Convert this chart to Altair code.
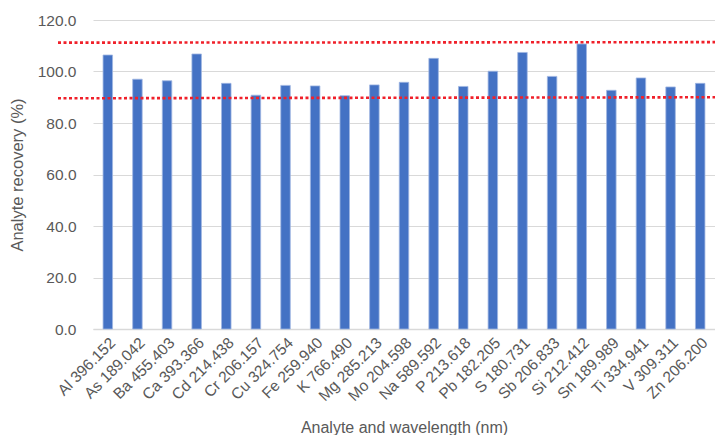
import altair as alt
import pandas as pd

analytes = ["Al 396.152", "As 189.042", "Ba 455.403", "Ca 393.366", "Cd 214.438",
            "Cr 206.157", "Cu 324.754", "Fe 259.940", "K 766.490", "Mg 285.213",
            "Mo 204.598", "Na 589.592", "P 213.618", "Pb 182.205", "S 180.731",
            "Sb 206.833", "Si 212.412", "Sn 189.989", "Ti 334.941", "V 309.311",
            "Zn 206.200"]
recovery = [106.4, 97.0, 96.4, 106.8, 95.4, 90.8, 94.6, 94.4, 90.6, 94.8,
            95.8, 105.1, 94.2, 100.1, 107.4, 98.1, 110.7, 92.7, 97.5, 94.0, 95.4]

upper_limit = [111.2, 111.4]
lower_limit = [89.6, 90.0]

W, H = 622, 309
FONT = "Liberation Sans"
GREY = "#595959"

df = pd.DataFrame({"analyte": analytes, "recovery": recovery})
lim = pd.DataFrame({"y": [upper_limit[0], lower_limit[0]],
                    "y2": [upper_limit[1], lower_limit[1]]})

bars = alt.Chart(df).mark_bar(
    color="#4472C4", stroke="#9fb6e2", strokeWidth=0.8, size=9.5
).encode(
    x=alt.X("analyte:N", sort=None, title="Analyte and wavelength (nm)",
            scale=alt.Scale(paddingInner=0.0, paddingOuter=0.0),
            axis=alt.Axis(labelAngle=-45, labelFontSize=15.5, labelColor=GREY,
                          labelFont=FONT, ticks=False, labelPadding=6,
                          domainColor="#d9d9d9", domainWidth=1.5,
                          titleFont=FONT, titleFontSize=16, titleColor=GREY,
                          titleFontWeight="normal", titlePadding=16)),
    y=alt.Y("recovery:Q", title="Analyte recovery (%)",
            scale=alt.Scale(domain=[0, 120], nice=False),
            axis=alt.Axis(values=[0, 20, 40, 60, 80, 100, 120], format=".1f",
                          labelFontSize=15.5, labelColor=GREY, labelFont=FONT,
                          ticks=False, domain=False, labelPadding=17,
                          gridColor="#d9d9d9", gridWidth=1.2,
                          titleFont=FONT, titleFontSize=16.5, titleColor=GREY,
                          titleFontWeight="normal", titlePadding=12)),
)

limits = alt.Chart(lim).mark_rule(
    color="#f0202a", strokeWidth=2.6, strokeDash=[3, 2.5]
).encode(
    x=alt.value(-35), x2=alt.value(W + 10),
    y=alt.Y("y:Q"), y2="y2:Q",
)

chart = alt.layer(bars, limits).properties(
    width=W, height=H,
    autosize=alt.AutoSizeParams(type="none"),
    padding={"left": 85, "top": 12, "right": 0, "bottom": 106},
).configure_view(stroke=None)

chart.save("out.html", embed_options={"renderer": "svg", "actions": False})
